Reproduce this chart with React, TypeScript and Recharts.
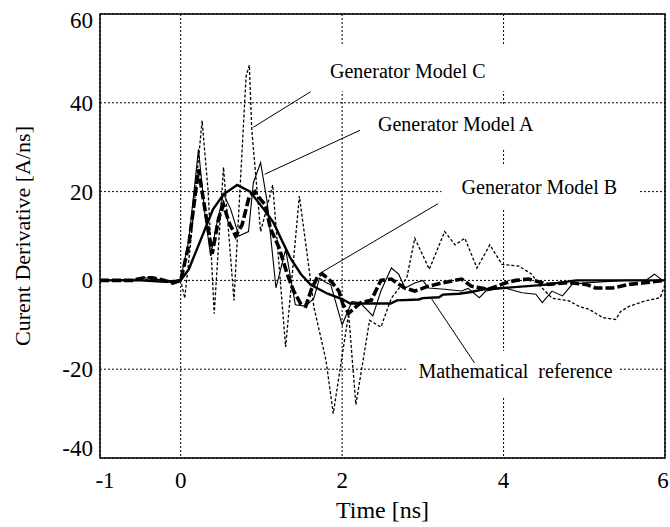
import React from 'react'
import {
  LineChart,
  Line,
  XAxis,
  YAxis,
  CartesianGrid,
  ReferenceArea,
  ReferenceLine,
  ReferenceDot,
} from 'recharts'

const FONT = '"Liberation Serif", "Times New Roman", serif'

// [time (ns), current derivative (A/ns)]
const mathRef: [number, number][] = [
  [-1, 0], [-0.5, 0], [-0.2, -0.3], [0, 0], [0.1, 2.5], [0.24, 8.8], [0.4, 16], [0.53, 19.4],
  [0.7, 21.5], [0.86, 20], [1.03, 16], [1.15, 13], [1.24, 9.5], [1.36, 5], [1.49, 1.4],
  [1.61, -1], [1.82, -3], [2.0, -4.2], [2.1, -5.2], [2.6, -5.2], [2.68, -4.5], [2.95, -4.3],
  [3.0, -4], [3.2, -3.8], [3.25, -3.2], [3.45, -3], [3.6, -2.6], [3.75, -2], [4.0, -1.7],
  [4.5, -1], [4.9, 0], [6, 0],
]

const modelA: [number, number][] = [
  [-1, 0], [-0.6, 0.2], [-0.45, 0.6], [-0.3, 0.3], [-0.1, -0.5], [0, 0.3], [0.1, 9],
  [0.22, 29.5], [0.3, 15], [0.37, 5.5], [0.45, 13], [0.53, 19.5], [0.62, 16], [0.72, 10],
  [0.84, 11], [0.9, 22], [0.99, 26.5], [1.07, 17.8], [1.18, -1.7], [1.3, 7], [1.42, -5.5],
  [1.55, -5.8], [1.65, -4], [1.72, 0.5], [1.8, -0.5], [1.86, -1], [2.0, -10], [2.12, -4.8],
  [2.22, -5], [2.38, -8], [2.48, -2.4], [2.61, 2.8], [2.7, 1.4], [2.78, -1.7], [2.9, -0.6],
  [3.0, 0], [3.07, -1.7], [3.27, -2], [3.48, -2.4], [3.56, -1.8], [3.7, -3.9], [3.78, -2.4],
  [3.9, -2], [4.02, -1.7], [4.07, -2], [4.23, -2.8], [4.4, -3.1], [4.48, -5], [4.6, -2.4],
  [4.73, -3.5], [4.85, -0.9], [5.06, -0.5], [5.5, 0], [5.76, 0], [5.87, 1.4], [5.97, 0], [6, 0],
]

const modelB: [number, number][] = [
  [-1, 0], [-0.6, 0], [-0.45, 0.6], [-0.35, 0.6], [-0.2, 0], [-0.1, -0.6], [0, 0], [0.1, 8],
  [0.22, 25], [0.3, 16], [0.39, 6], [0.47, 14], [0.53, 17], [0.6, 13], [0.68, 10], [0.76, 12.5],
  [0.85, 19], [0.92, 20], [1.0, 18], [1.05, 17], [1.11, 11.8], [1.22, 7.3], [1.32, 1.4],
  [1.4, -2.4], [1.49, -5.4], [1.55, -5.8], [1.62, -2], [1.7, 1], [1.75, 1.5], [1.82, 0.5],
  [1.88, -0.6], [1.96, -2.4], [2.01, -5.4], [2.08, -7.4], [2.23, -5], [2.36, -4.5], [2.48, 0],
  [2.61, 0.3], [2.77, -1.7], [2.9, -2.4], [3.07, -1.3], [3.23, -0.6], [3.48, 0.3], [3.6, -1.3],
  [3.81, -2], [4.02, -0.6], [4.15, 0], [4.31, 0.3], [4.56, -0.9], [4.8, -0.5], [5.02, -0.9],
  [5.14, -1.7], [5.35, -1.7], [5.56, -0.9], [5.72, -0.6], [6, 0],
]

const modelC: [number, number][] = [
  [-1, 0], [-0.5, 0], [-0.3, 0.3], [-0.1, -0.4], [0, 0], [0.05, -4], [0.12, 8], [0.265, 36],
  [0.34, 20], [0.415, -7.5], [0.53, 25.5], [0.66, -4.5], [0.81, 46], [0.85, 48.5], [0.88, 34],
  [0.99, 11], [1.14, 21.5], [1.22, 3], [1.3, -15], [1.47, 19], [1.58, 4], [1.65, -6],
  [1.8, -18], [1.89, -30], [2.08, -7.5], [2.17, -28], [2.34, -9], [2.48, -10.5], [2.61, -4],
  [2.8, 0.5], [2.9, 9.5], [3.08, 2.5], [3.27, 11], [3.4, 8], [3.52, 9.5], [3.67, 2.8],
  [3.83, 8], [3.98, 3.6], [4.19, 3.2], [4.35, 1.4], [4.44, -1], [4.6, -4], [4.81, -4.6],
  [4.95, -6], [5.06, -6.5], [5.23, -8.4], [5.39, -8.8], [5.45, -7], [5.56, -5.8], [5.76, -4.6],
  [5.94, -3.9], [6, -1],
]

const xTicks = [-1, 0, 2, 4, 6]
const yTicks = [-40, -20, 0, 20, 40, 60]

// callouts, in data coordinates: text start, white box [t1, t2, v1, v2], leader line
const callouts = [
  { text: 'Generator Model C', at: [1.85, 45.6], box: [1.74, 4.04, 42.6, 52.8], leader: [[0.9, 34.5], [1.61, 42.5]] },
  { text: 'Generator Model A', at: [2.445, 33.6], box: [2.3, 4.54, 29.8, 39.8], leader: [[1.04, 23.9], [2.22, 33.8]] },
  { text: 'Generator Model B', at: [3.48, 19.4], box: [3.23, 5.69, 16.1, 26.2], leader: [[1.735, 1.7], [3.19, 17.3]] },
  { text: 'Mathematical  reference', at: [2.945, -22.0], box: [2.79, 5.44, -26.5, -15.9], leader: [[3.11, -4.2], [3.64, -18.6]] },
]

const toPoints = (arr: [number, number][]) => arr.map(([t, v]) => ({ t, v }))

const XTick = ({ x, y, payload }: any) => {
  const shift = payload.value === -1 ? 5 : payload.value === 6 ? -2 : 0
  return (
    <text x={x + shift} y={y + 22} textAnchor="middle" fontSize={23} fontFamily={FONT} fill="#000">
      {payload.value}
    </text>
  )
}

const YTick = ({ x, y, payload }: any) => {
  const shift = payload.value === 60 ? 6 : payload.value === -40 ? -10 : 0
  return (
    <text x={x + 1} y={y + shift} dy="0.35em" textAnchor="end" fontSize={23} fontFamily={FONT} fill="#000">
      {payload.value}
    </text>
  )
}

export default function App() {
  return (
    <div style={{ position: 'absolute', left: 0, top: 0 }}>
      <LineChart width={670} height={527} margin={{ top: 14, right: 5, bottom: 19, left: 30 }}>
        <CartesianGrid stroke="#000" strokeDasharray="2 2" strokeWidth={1} />
        <XAxis
          type="number"
          dataKey="t"
          domain={[-1, 6]}
          ticks={xTicks}
          allowDataOverflow
          tickLine={false}
          axisLine={false}
          height={50}
          tick={<XTick />}
          label={{
            content: ({ viewBox }: any) => (
              <text x={viewBox.x + viewBox.width / 2} y={518} textAnchor="middle" fontSize={24} fontFamily={FONT} fill="#000">
                Time [ns]
              </text>
            ),
          }}
        />
        <YAxis
          type="number"
          domain={[-40, 60]}
          ticks={yTicks}
          allowDataOverflow
          tickLine={false}
          axisLine={false}
          width={70}
          tick={<YTick />}
          label={{
            content: ({ viewBox }: any) => {
              const cy = viewBox.y + viewBox.height / 2
              return (
                <text x={22} y={cy} transform={`rotate(-90 22 ${cy})`} dy="0.35em" textAnchor="middle" fontSize={22} fontFamily={FONT} fill="#000">
                  Curent Derivative [A/ns]
                </text>
              )
            },
          }}
        />
        {callouts.map((c) => (
          <ReferenceArea key={c.text + '-box'} x1={c.box[0]} x2={c.box[1]} y1={c.box[2]} y2={c.box[3]} fill="#fff" fillOpacity={1} stroke="none" />
        ))}
        <ReferenceArea x1={-1} x2={6} y1={-40} y2={60} fill="none" stroke="#000" strokeWidth={1.5} />
        {callouts.map((c) => (
          <ReferenceLine
            key={c.text + '-leader'}
            segment={[{ x: c.leader[0][0], y: c.leader[0][1] }, { x: c.leader[1][0], y: c.leader[1][1] }]}
            stroke="#000"
            strokeWidth={1}
          />
        ))}
        <Line data={toPoints(modelC)} dataKey="v" type="linear" stroke="#000" strokeWidth={1.3} strokeDasharray="3 2" dot={false} isAnimationActive={false} />
        <Line data={toPoints(modelA)} dataKey="v" type="linear" stroke="#000" strokeWidth={1.1} dot={false} isAnimationActive={false} />
        <Line data={toPoints(mathRef)} dataKey="v" type="linear" stroke="#000" strokeWidth={2.4} dot={false} isAnimationActive={false} />
        <Line data={toPoints(modelB)} dataKey="v" type="linear" stroke="#000" strokeWidth={3.6} strokeDasharray="9 3" dot={false} isAnimationActive={false} />
        {callouts.map((c) => (
          <ReferenceDot
            key={c.text + '-text'}
            x={c.at[0]}
            y={c.at[1]}
            r={0}
            shape={(p: any) => (
              <text x={p.cx} y={p.cy} fontSize={20} fontFamily={FONT} fill="#000" style={{ whiteSpace: 'pre' }}>
                {c.text}
              </text>
            )}
          />
        ))}
      </LineChart>
    </div>
  )
}
